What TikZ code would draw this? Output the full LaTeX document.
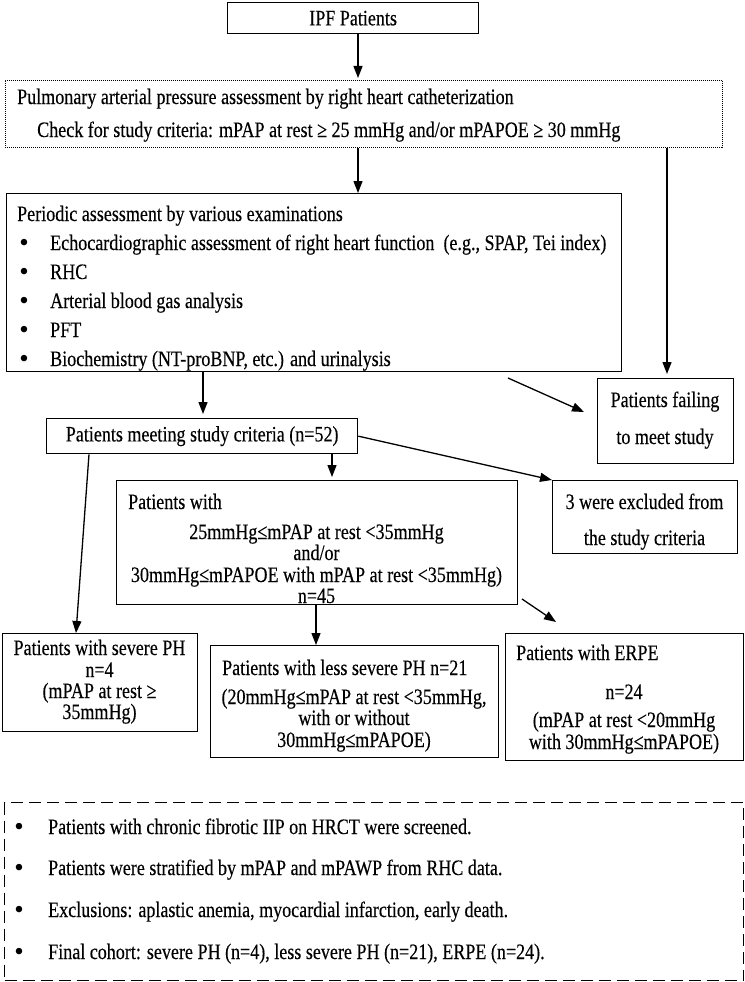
\documentclass[tikz,border=0pt]{standalone}
\usepackage{fontspec}
\setmainfont{Liberation Serif}[FakeStretch=0.82,FakeBold=0.25]
\newfontfamily\bulletfont{Liberation Serif}
\usetikzlibrary{arrows.meta}
\begin{document}
\begin{tikzpicture}[x=1pt,y=-1pt,
  every node/.style={font=\fontsize{22}{26}\selectfont, inner sep=0pt},
  box/.style={draw, line width=1.3pt, anchor=north west},
  dotbox/.style={draw, line width=0.9pt, dash pattern=on 1pt off 1pt, anchor=north west},
  dashbox/.style={draw, line width=1.3pt, dash pattern=on 12pt off 6pt, anchor=north west},
  txt/.style={anchor=base west},
  ctxt/.style={anchor=base},
  bul/.style={anchor=base, font=\bulletfont\fontsize{27}{27}\selectfont},
  arr/.style={line width=1.3pt, -{Triangle[width=9pt,length=12pt]}},
]
\useasboundingbox (0,0) rectangle (744,982);

% boxes
\node[box, minimum width=251pt, minimum height=31pt] (ipf) at (227,2) {IPF Patients};
\node[dotbox, minimum width=717pt, minimum height=67pt] (pap) at (5,80) {};
\node[txt] (pap1) at (17,104) {Pulmonary arterial pressure assessment by right heart catheterization};
\node[txt] (pap2) at (37,137) {Check for study criteria: mPAP at rest ≥ 25 mmHg and/or mPAPOE ≥ 30 mmHg};

\node[box, minimum width=615pt, minimum height=178pt] (per) at (6,193) {};
\node[txt] (per0) at (17,221) {Periodic assessment by various examinations};
\foreach \y/\t [count=\i] in {250/{Echocardiographic assessment of right heart function\ \ (e.g., SPAP, Tei index)},
  279/RHC, 308/Arterial blood gas analysis, 337/PFT, 366/{Biochemistry (NT-proBNP, etc.) and urinalysis}}{
  \node[bul] (perb\i) at (24,\y+1) {•};
  \node[txt] (peri\i) at (50,\y) {\t};
}

\node[box, minimum width=311pt, minimum height=35pt] (meet) at (46,418) {Patients meeting study criteria (n=52)};

\node[box, minimum width=136pt, minimum height=85pt] (fail) at (597,378) {};
\node[ctxt] (fail1) at (665,407) {Patients failing};
\node[ctxt] (fail2) at (665,444) {to meet study};

\node[box, minimum width=185pt, minimum height=73pt] (excl) at (552,480) {};
\node[ctxt] (excl1) at (644.5,509) {3 were excluded from};
\node[ctxt] (excl2) at (644.5,545) {the study criteria};

\node[box, minimum width=401pt, minimum height=124pt] (pw) at (116,480) {};
\node[txt] (pw1) at (128,509) {Patients with};
\node[ctxt] (pw2) at (316.5,539) {25mmHg≤mPAP at rest <35mmHg};
\node[ctxt] (pw3) at (316.5,560) {and/or};
\node[ctxt] (pw4) at (316.5,582) {30mmHg≤mPAPOE with mPAP at rest <35mmHg)};
\node[ctxt] (pw5) at (316.5,603) {n=45};

\node[box, minimum width=195pt, minimum height=98pt] (sev) at (2,633) {};
\node[ctxt] (sev1) at (99.5,655) {Patients with severe PH};
\node[ctxt] (sev2) at (99.5,677) {n=4};
\node[ctxt] (sev3) at (99.5,698) {(mPAP at rest ≥};
\node[ctxt] (sev4) at (99.5,719) {35mmHg)};

\node[box, minimum width=288pt, minimum height=112pt] (less) at (210,645) {};
\node[txt] (less1) at (222,675) {Patients with less severe PH n=21};
\node[ctxt] (less2) at (354,704) {(20mmHg≤mPAP at rest <35mmHg,};
\node[ctxt] (less3) at (354,725) {with or without};
\node[ctxt] (less4) at (354,747) {30mmHg≤mPAPOE)};

\node[box, minimum width=238pt, minimum height=127pt] (erpe) at (505,633) {};
\node[txt] (erpe1) at (516,660) {Patients with ERPE};
\node[ctxt] (erpe2) at (624,699) {n=24};
\node[ctxt] (erpe3) at (624,727) {(mPAP at rest <20mmHg};
\node[ctxt] (erpe4) at (624,749) {with 30mmHg≤mPAPOE)};

\node[dashbox, minimum width=739pt, minimum height=178pt] (note) at (4,802) {};
\foreach \y/\t [count=\i] in {834/Patients with chronic fibrotic IIP on HRCT were screened.,
  875/Patients were stratified by mPAP and mPAWP from RHC data.,
  917/{Exclusions: aplastic anemia, myocardial infarction, early death.},
  959/{Final cohort: severe PH (n=4), less severe PH (n=21), ERPE (n=24).}}{
  \node[bul] (noteb\i) at (19,\y+1) {•};
  \node[txt] (notei\i) at (48,\y) {\t};
}

% connectors
\coordinate (cx) at (358,0);
\coordinate (rx) at (667,0);
\coordinate (mx) at (203,0);
\coordinate (wx) at (332,0);
\coordinate (sa) at (89,0);
\coordinate (sb) at (76,0);
\coordinate (lx) at (316,0);
\coordinate (d1a) at (508,378);
\coordinate (d1b) at (584,412);
\coordinate (d2a) at (522,599);
\coordinate (d2b) at (556,622);

\draw[arr, shorten >=2pt] (ipf.south -| cx) -- (pap.north -| cx);
\draw[arr] (pap.south -| cx) -- (per.north -| cx);
\draw[arr, shorten >=4pt] (pap.south -| rx) -- (fail.north -| rx);
\draw[arr, shorten >=4pt] (per.south -| mx) -- (meet.north -| mx);
\draw[arr] (d1a) -- (d1b);
\draw[arr, shorten >=3pt] (meet.south -| wx) -- (pw.north -| wx);
\draw[arr] (meet.east) -- (excl.north west);
\draw[arr] (meet.south -| sa) -- (sev.north -| sb);
\draw[arr] (pw.south -| lx) -- (less.north -| lx);
\draw[arr] (d2a) -- (d2b);
\end{tikzpicture}
\end{document}
